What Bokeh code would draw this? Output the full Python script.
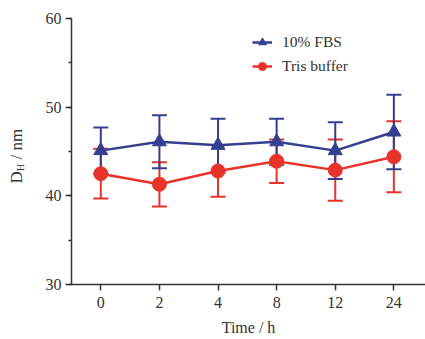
from bokeh.plotting import figure
from bokeh.layouts import row
from bokeh.models import (Range1d, FixedTicker, SingleIntervalTicker, Legend, LegendItem,
                          Label, ColumnDataSource)
from bokeh.embed import file_html
from bokeh.resources import INLINE

times = ["0", "2", "4", "8", "12", "24"]
fbs_mean = [45.1, 46.1, 45.7, 46.1, 45.1, 47.2]
fbs_err = [2.6, 3.0, 3.0, 2.6, 3.2, 4.2]
tris_mean = [42.5, 41.3, 42.8, 43.9, 42.9, 44.4]
tris_err = [2.8, 2.5, 2.9, 2.45, 3.45, 4.0]
legend_labels = ["10% FBS", "Tris buffer"]
y_label = ["D", "H", "/ nm"]
x_label = "Time / h"

BLUE = "#34408f"
RED = "#e8332b"
AX = "#333333"
FONT = "Liberation Serif"
W, H = 425, 339
LW = 30  # width of the strip holding the y-axis title

idx = list(range(len(times)))

def src(mean, err):
    return ColumnDataSource(dict(
        x=idx, y=mean,
        lo=[m - e for m, e in zip(mean, err)],
        hi=[m + e for m, e in zip(mean, err)],
    ))

s_fbs = src(fbs_mean, fbs_err)
s_tris = src(tris_mean, tris_err)

p = figure(width=W - LW, height=H, output_backend="svg", toolbar_location=None,
           x_range=Range1d(-0.5, 5.54), y_range=Range1d(30, 60),
           min_border_left=71 - LW, min_border_right=0, min_border_top=18, min_border_bottom=55)
p.outline_line_color = None
p.grid.grid_line_color = None

for s, c in ((s_tris, RED), (s_fbs, BLUE)):
    p.segment(x0="x", y0="lo", x1="x", y1="hi", source=s, line_color=c, line_width=2)
    p.scatter(x="x", y="lo", source=s, marker="dash", size=15, line_color=c, line_width=2)
    p.scatter(x="x", y="hi", source=s, marker="dash", size=15, line_color=c, line_width=2)

l_tris = p.line(x="x", y="y", source=s_tris, line_color=RED, line_width=2.5)
m_tris = p.scatter(x="x", y="y", source=s_tris, marker="circle", size=14,
                   fill_color=RED, line_color=RED)
l_fbs = p.line(x="x", y="y", source=s_fbs, line_color=BLUE, line_width=2.5)
m_fbs = p.scatter(x="x", y="y", source=s_fbs, marker="triangle", size=14,
                  fill_color=BLUE, line_color=BLUE)

p.xaxis.ticker = FixedTicker(ticks=idx)
p.xaxis.major_label_overrides = {i: t for i, t in zip(idx, times)}
p.yaxis.ticker = SingleIntervalTicker(interval=10, num_minor_ticks=2)
for ax in (p.xaxis, p.yaxis):
    ax.axis_line_color = AX
    ax.axis_line_width = 1.5
    ax.major_tick_line_color = AX
    ax.major_tick_line_width = 1.5
    ax.minor_tick_line_color = AX
    ax.minor_tick_line_width = 1.5
    ax.major_tick_in = 0
    ax.major_tick_out = 6
    ax.minor_tick_in = 0
    ax.minor_tick_out = 3
    ax.major_label_text_font = FONT
    ax.major_label_text_font_size = "16px"
    ax.major_label_text_color = AX
    ax.axis_label_text_font = FONT
    ax.axis_label_text_font_size = "16px"
    ax.axis_label_text_font_style = "normal"
    ax.axis_label_text_color = AX
p.xaxis.minor_tick_line_color = None
p.xaxis.major_label_standoff = 6
p.yaxis.major_label_standoff = 4
p.xaxis.axis_label = x_label
p.xaxis.axis_label_standoff = 8

legend = Legend(items=[LegendItem(label=legend_labels[0], renderers=[l_fbs, m_fbs]),
                       LegendItem(label=legend_labels[1], renderers=[l_tris, m_tris])],
                location=(181, 208))
legend.border_line_color = None
legend.background_fill_alpha = 0
legend.padding = 0
legend.margin = 0
legend.spacing = 4
legend.glyph_width = 20
legend.glyph_height = 20
legend.label_height = 20
legend.label_standoff = 10
legend.label_text_font = FONT
legend.label_text_font_size = "15.5px"
legend.label_text_color = AX
p.add_layout(legend, "center")

# narrow strip with the y-axis title (D subscript H / nm); its frame is aligned with p's
t = figure(width=LW, height=H, output_backend="svg", toolbar_location=None,
           x_axis_location=None, y_axis_location=None,
           x_range=Range1d(0, LW), y_range=Range1d(0, H),
           min_border_left=0, min_border_right=0, min_border_top=0, min_border_bottom=0)
t.outline_line_color = None
t.grid.grid_line_color = None
lab_kw = dict(x_units="screen", y_units="screen", angle=90, angle_units="deg",
              text_align="left", text_baseline="middle", text_font=FONT, text_color=AX)
t.add_layout(Label(x=16, y=101, text=y_label[0], text_font_size="17px", **lab_kw))
t.add_layout(Label(x=20, y=113.5, text=y_label[1], text_font_size="10px", **lab_kw))
t.add_layout(Label(x=16, y=125, text=y_label[2], text_font_size="17px", **lab_kw))

layout = row(t, p, spacing=0)
open("out.html", "w").write(file_html(layout, INLINE))
